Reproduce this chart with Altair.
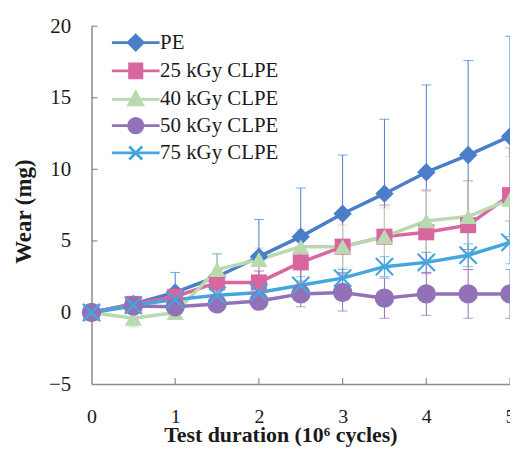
import altair as alt
import pandas as pd

# ---------------- data ----------------
cycles = [0, 0.5, 1, 1.5, 2, 2.5, 3, 3.5, 4, 4.5, 5]
series = ["PE", "25 kGy CLPE", "40 kGy CLPE", "50 kGy CLPE", "75 kGy CLPE"]
colors = ["#4a7ec8", "#d9669e", "#b9d9b1", "#9171b8", "#45a6dd"]

pe = [0, 0.6, 1.4, 2.5, 3.9, 5.3, 6.9, 8.3, 9.8, 11.0, 12.3]
pe_err = [0, 0.3, 1.4, 1.6, 2.6, 3.4, 4.1, 5.2, 6.1, 6.6, 7.0]
c25 = [0, 0.6, 1.1, 2.1, 2.1, 3.5, 4.6, 5.3, 5.6, 6.1, 8.2]
c25_err = [0, 0.4, 0.5, 0.6, 0.8, 1.5, 2.0, 2.2, 2.9, 3.1, 3.3]
c40 = [0, -0.4, 0.0, 3.0, 3.7, 4.6, 4.6, 5.3, 6.4, 6.7, 7.9]
c40_err = [0, 0.6, 0.4, 1.1, 0.8, 1.2, 1.5, 2.0, 2.2, 2.5, 3.0]
c50 = [0, 0.45, 0.4, 0.6, 0.8, 1.3, 1.4, 1.0, 1.3, 1.3, 1.3]
c50_err = [0, 0.2, 0.3, 0.4, 0.6, 0.9, 1.3, 1.4, 1.5, 1.7, 1.7]
c75 = [0, 0.5, 0.9, 1.2, 1.4, 1.9, 2.4, 3.2, 3.5, 4.0, 4.9]
c75_err = [0, 0.2, 0.3, 0.3, 0.4, 0.6, 0.6, 0.7, 0.7, 0.8, 1.5]

x_ticks = [1, 2, 3, 4, 5]
y_ticks = [0, 5, 10, 15, 20]
x_labels = [0, 1, 2, 3, 4, 5]
y_labels = [-5, 0, 5, 10, 15, 20]

values = [pe, c25, c40, c50, c75]
errors = [pe_err, c25_err, c40_err, c50_err, c75_err]

rows = []
for s, vals, errs in zip(series, values, errors):
    for x, v, e in zip(cycles, vals, errs):
        rows.append({"series": s, "cycles": x, "wear": v, "err": e,
                     "lo": v - e, "hi": v + e})
df = pd.DataFrame(rows)
err_df = df[df["err"] > 0]

# ---------------- styling ----------------
SERIF = "Liberation Serif"
point_shapes = ["diamond", "square", "triangle-up", "circle",
                "M-1,-1L1,1M-1,1L1,-1"]
point_sizes = [340, 260, 300, 380, 300]
legend_shapes = [
    "M-2.4,0H2.4M0,-0.75L0.75,0L0,0.75L-0.75,0Z",
    "M-2.4,0H2.4M-0.62,-0.7H0.62V0.7H-0.62Z",
    "M-2.4,0H2.4M0,-0.75L0.7,0.55H-0.7Z",
    "M-2.4,0H2.4M-0.72,0A0.72,0.72,0,1,0,0.72,0A0.72,0.72,0,1,0,-0.72,0Z",
    "M-2.4,0H2.4M-0.65,-0.65L0.65,0.65M-0.65,0.65L0.65,-0.65",
]

x_scale = alt.Scale(domain=[0, 5], nice=False, zero=False)
y_scale = alt.Scale(domain=[-5, 20], nice=False, zero=False)
col_scale = alt.Scale(domain=series, range=colors)

x_axis = alt.Axis(values=x_labels, ticks=False, grid=False, labelFont=SERIF,
                  labelFontSize=20, labelColor="#1a1a1a", labelPadding=23,
                  labelFlush=False, domainColor="#8c8c8c", domainWidth=1.5,
                  title="Test duration (10⁶ cycles)", titleFont=SERIF,
                  titleFontSize=22, titleFontWeight="bold", titleColor="#1a1a1a",
                  titleX=190, titleY=58, titleAlign="center",
                  titleBaseline="alphabetic")
y_axis = alt.Axis(values=y_labels, ticks=False, grid=False, labelFont=SERIF,
                  labelFontSize=21, labelColor="#1a1a1a", labelPadding=21,
                  labelFlush=False, domainColor="#8c8c8c", domainWidth=1.5,
                  title="Wear (mg)", titleFont=SERIF, titleFontSize=23,
                  titleFontWeight="bold", titleColor="#1a1a1a",
                  titleX=-68, titleY=186, titleAngle=270, titleAlign="center",
                  titleBaseline="middle")

leg = alt.Legend(orient="none", legendX=33, legendY=5, title=None,
                 labelFont=SERIF, labelFontSize=21, labelColor="#1a1a1a",
                 symbolSize=400, symbolStrokeWidth=2.8, symbolOpacity=1,
                 labelOffset=13, rowPadding=1.5, padding=0)

X = alt.X("cycles:Q", scale=x_scale, axis=x_axis)
Y = alt.Y("wear:Q", scale=y_scale, axis=y_axis)
C = alt.Color("series:N", scale=col_scale, legend=leg)

errbars = alt.Chart(err_df).mark_errorbar(ticks=True, size=10, thickness=1).encode(
    x=X,
    y=alt.Y("lo:Q", scale=y_scale, axis=y_axis),
    y2="hi:Q",
    color=C,
)

lines = alt.Chart(df).mark_line(strokeWidth=3.5).encode(
    x=X, y=Y, color=C, detail="series:N",
)

point_layers = []
for s, shp, sz in zip(series, point_shapes, point_sizes):
    is_cross = shp.startswith("M")
    mk = alt.Chart(df).transform_filter(alt.datum.series == s).mark_point(
        shape=shp, size=sz, opacity=1, filled=not is_cross,
        strokeWidth=2.2 if is_cross else 1.0,
    ).encode(x=X, y=Y, color=C)
    point_layers.append(mk)

legend_layer = alt.Chart(df).transform_filter("datum.cycles < -1").mark_point(
    filled=True, size=400, opacity=1).encode(
    fill=alt.Fill("series:N", scale=col_scale, legend=leg),
    stroke=alt.Stroke("series:N", scale=col_scale, legend=leg),
    shape=alt.Shape("series:N", scale=alt.Scale(domain=series, range=legend_shapes),
                    legend=leg),
)

xt = alt.Chart(pd.DataFrame({"cycles": x_ticks})).mark_rule(
    color="#8c8c8c", strokeWidth=1.2).encode(
    x=X, y=alt.value(360), y2=alt.value(354))
yt = alt.Chart(pd.DataFrame({"wear": y_ticks})).mark_rule(
    color="#8c8c8c", strokeWidth=1.2).encode(
    y=Y, x=alt.value(0), x2=alt.value(6))

chart = alt.layer(xt, yt, errbars, lines, *point_layers, legend_layer).properties(
    width=421, height=360,
    autosize=alt.AutoSizeParams(type="none"),
    padding={"left": 84, "top": 17, "right": 0, "bottom": 64},
    background="white",
).configure_view(stroke=None)

chart.save("out.html", embed_options={"renderer": "svg", "actions": False})
